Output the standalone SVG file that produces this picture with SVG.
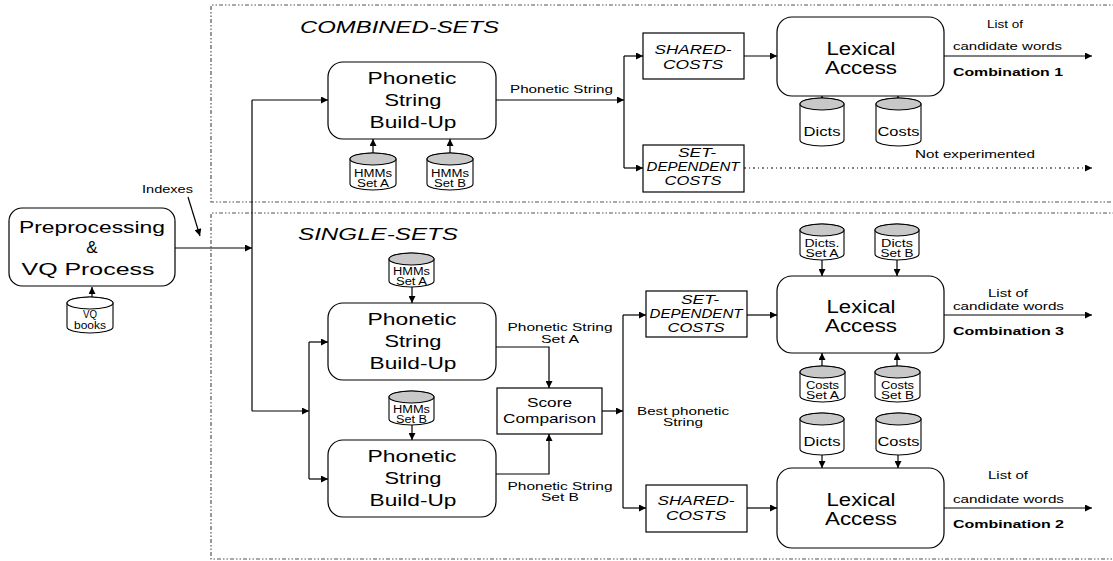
<svg xmlns="http://www.w3.org/2000/svg" width="1113" height="561" viewBox="0 0 1113 561">
<style>
.bg{fill:#fff}
.box{fill:#fff;stroke:#000;stroke-width:1.2}
.ln{fill:none;stroke:#000;stroke-width:1.2}
.dl{fill:none;stroke:#000;stroke-width:1.1;stroke-dasharray:2,3,1,3}
.reg{fill:none;stroke:#555;stroke-width:1.2;stroke-dasharray:4,2,1.5,2,1.5,2}
.cyl{fill:#fff;stroke:#000;stroke-width:1.1}
.top{fill:#c8c8c8;stroke:#000;stroke-width:1.1}
.topw{fill:#fff;stroke:#000;stroke-width:1.1}
text{font-family:"Liberation Sans",Arial,sans-serif;fill:#000}
.big{font-size:17px;text-anchor:middle}
.lex{font-size:18px;text-anchor:middle}
.ttl{font-size:17px;font-style:italic}
.it{font-size:12.5px;font-style:italic;text-anchor:middle}
.sm{font-size:11.5px}
.smc{font-size:11.5px;text-anchor:middle}
.cy{font-size:10px;text-anchor:middle}
.cyb{font-size:12px;text-anchor:middle}
.sc{font-size:13.5px;text-anchor:middle}
.bold{font-weight:bold}
</style>
<defs>
<marker id="ah" viewBox="0 0 10 10" refX="10" refY="5" markerWidth="9" markerHeight="7" markerUnits="userSpaceOnUse" orient="auto"><path d="M0,0 L10,5 L0,10 z" fill="#000"/></marker>
</defs>
<rect class="bg" x="0" y="0" width="1113" height="561"/>

<g id="regions">
<path class="reg" d="M1120,5 H211 V202 H1120"/>
<path class="reg" d="M1120,213 H211 V559 H1120"/>
<text class="ttl" x="300" y="33" textLength="199" lengthAdjust="spacingAndGlyphs">COMBINED-SETS</text>
<text class="ttl" x="298" y="240" textLength="160" lengthAdjust="spacingAndGlyphs">SINGLE-SETS</text>
</g>

<g id="connectors">
<path class="ln" d="M92,310 V287" marker-end="url(#ah)"/>
<path class="ln" d="M175,248 H252" marker-end="url(#ah)"/>
<path class="ln" d="M188,197 L200,236" marker-end="url(#ah)"/>
<path class="ln" d="M252,100 V411"/>
<path class="ln" d="M252,100 H328" marker-end="url(#ah)"/>
<path class="ln" d="M252,411 H309" marker-end="url(#ah)"/>
<path class="ln" d="M309,342 V479"/>
<path class="ln" d="M309,342 H328" marker-end="url(#ah)"/>
<path class="ln" d="M309,479 H328" marker-end="url(#ah)"/>
<path class="ln" d="M373,163 V139" marker-end="url(#ah)"/>
<path class="ln" d="M450,163 V139" marker-end="url(#ah)"/>
<path class="ln" d="M496,100 H624" marker-end="url(#ah)"/>
<path class="ln" d="M624,56 V168"/>
<path class="ln" d="M624,56 H643" marker-end="url(#ah)"/>
<path class="ln" d="M624,168 H643" marker-end="url(#ah)"/>
<path class="ln" d="M744,56 H777" marker-end="url(#ah)"/>
<path class="ln" d="M822,112 V96" marker-end="url(#ah)"/>
<path class="ln" d="M898,112 V96" marker-end="url(#ah)"/>
<path class="ln" d="M944,56 H1092" marker-end="url(#ah)"/>
<path class="dl" d="M744,168 H1092" marker-end="url(#ah)"/>
<path class="ln" d="M412,287 V303" marker-end="url(#ah)"/>
<path class="ln" d="M412,425 V440" marker-end="url(#ah)"/>
<path class="ln" d="M496,347 H549 V388" marker-end="url(#ah)"/>
<path class="ln" d="M496,474 H549 V434" marker-end="url(#ah)"/>
<path class="ln" d="M602,411 H623" marker-end="url(#ah)"/>
<path class="ln" d="M623,315 V508"/>
<path class="ln" d="M623,315 H646" marker-end="url(#ah)"/>
<path class="ln" d="M623,508 H646" marker-end="url(#ah)"/>
<path class="ln" d="M747,315 H777" marker-end="url(#ah)"/>
<path class="ln" d="M747,508 H777" marker-end="url(#ah)"/>
<path class="ln" d="M822,260 V276" marker-end="url(#ah)"/>
<path class="ln" d="M897,260 V276" marker-end="url(#ah)"/>
<path class="ln" d="M822,378 V353" marker-end="url(#ah)"/>
<path class="ln" d="M897,378 V353" marker-end="url(#ah)"/>
<path class="ln" d="M822,455 V468" marker-end="url(#ah)"/>
<path class="ln" d="M898,455 V468" marker-end="url(#ah)"/>
<path class="ln" d="M944,315 H1092" marker-end="url(#ah)"/>
<path class="ln" d="M944,508 H1092" marker-end="url(#ah)"/>
</g>

<g id="labels">
<text class="sm" x="142" y="193" font-size="10" style="font-size:10px" textLength="51" lengthAdjust="spacingAndGlyphs">Indexes</text>
<text class="sm" x="510" y="93" textLength="103" lengthAdjust="spacingAndGlyphs">Phonetic String</text>
<text class="sm" x="915" y="158" textLength="120" lengthAdjust="spacingAndGlyphs">Not experimented</text>
<text class="sm" x="987" y="28" textLength="36" lengthAdjust="spacingAndGlyphs">List of</text>
<text class="sm" x="953" y="50" textLength="109" lengthAdjust="spacingAndGlyphs">candidate words</text>
<text class="sm bold" x="953" y="76" textLength="110" lengthAdjust="spacingAndGlyphs">Combination 1</text>
<text class="smc" x="560" y="331" textLength="105" lengthAdjust="spacingAndGlyphs">Phonetic String</text>
<text class="smc" x="560" y="343" textLength="38" lengthAdjust="spacingAndGlyphs">Set A</text>
<text class="smc" x="560" y="490" textLength="105" lengthAdjust="spacingAndGlyphs">Phonetic String</text>
<text class="smc" x="560" y="501" textLength="38" lengthAdjust="spacingAndGlyphs">Set B</text>
<text class="sm" x="637" y="415" textLength="92" lengthAdjust="spacingAndGlyphs">Best phonetic</text>
<text class="smc" x="683" y="426" textLength="40" lengthAdjust="spacingAndGlyphs">String</text>
<text class="sm" x="988" y="297" textLength="40" lengthAdjust="spacingAndGlyphs">List of</text>
<text class="sm" x="953" y="310" textLength="111" lengthAdjust="spacingAndGlyphs">candidate words</text>
<text class="sm bold" x="953" y="335" textLength="111" lengthAdjust="spacingAndGlyphs">Combination 3</text>
<text class="sm" x="988" y="479" textLength="40" lengthAdjust="spacingAndGlyphs">List of</text>
<text class="sm" x="953" y="503" textLength="111" lengthAdjust="spacingAndGlyphs">candidate words</text>
<text class="sm bold" x="953" y="528" textLength="111" lengthAdjust="spacingAndGlyphs">Combination 2</text>
</g>

<g id="preprocessing">
<rect class="box" x="9" y="208" width="166" height="78" rx="13"/>
<text class="big" x="92" y="233" textLength="146" lengthAdjust="spacingAndGlyphs">Preprocessing</text>
<text class="big" x="92" y="253">&amp;</text>
<text class="big" x="88" y="275" textLength="133" lengthAdjust="spacingAndGlyphs">VQ Process</text>
</g>
<g id="vq-books">
<path class="cyl" d="M67,303 A23,6 0 0 1 113,303 V327 A23,6 0 0 1 67,327 Z"/>
<ellipse class="topw" cx="90" cy="303" rx="23" ry="6"/>
<text class="cy" x="90" y="318" textLength="14" lengthAdjust="spacingAndGlyphs">VQ</text>
<text class="cy" x="90" y="329" textLength="32" lengthAdjust="spacingAndGlyphs">books</text>
</g>

<g id="phonetic-combined">
<rect class="box" x="328" y="62" width="168" height="77" rx="15"/>
<text class="big" x="412" y="84" textLength="89" lengthAdjust="spacingAndGlyphs">Phonetic</text>
<text class="big" x="413" y="106" textLength="57" lengthAdjust="spacingAndGlyphs">String</text>
<text class="big" x="413" y="128" textLength="87" lengthAdjust="spacingAndGlyphs">Build-Up</text>
</g>
<g id="hmms-a-combined">
<path class="cyl" d="M350,159 A23,6 0 0 1 396,159 V184 A23,6 0 0 1 350,184 Z"/>
<ellipse class="top" cx="373" cy="159" rx="23" ry="6"/>
<text class="cy" x="373" y="177" textLength="38" lengthAdjust="spacingAndGlyphs">HMMs</text>
<text class="cy" x="373" y="187" textLength="32" lengthAdjust="spacingAndGlyphs">Set A</text>
</g>
<g id="hmms-b-combined">
<path class="cyl" d="M427,159 A23,6 0 0 1 473,159 V184 A23,6 0 0 1 427,184 Z"/>
<ellipse class="top" cx="450" cy="159" rx="23" ry="6"/>
<text class="cy" x="450" y="177" textLength="38" lengthAdjust="spacingAndGlyphs">HMMs</text>
<text class="cy" x="450" y="187" textLength="32" lengthAdjust="spacingAndGlyphs">Set B</text>
</g>

<g id="shared-costs-combined">
<rect class="box" x="643" y="33" width="101" height="46"/>
<text class="it" x="693" y="54" textLength="77" lengthAdjust="spacingAndGlyphs">SHARED-</text>
<text class="it" x="693" y="69" textLength="60" lengthAdjust="spacingAndGlyphs">COSTS</text>
</g>
<g id="set-dependent-combined">
<rect class="box" x="643" y="145" width="101" height="47"/>
<text class="it" x="697" y="157" textLength="38" lengthAdjust="spacingAndGlyphs">SET-</text>
<text class="it" x="693" y="171" textLength="93" lengthAdjust="spacingAndGlyphs">DEPENDENT</text>
<text class="it" x="693" y="185" textLength="57" lengthAdjust="spacingAndGlyphs">COSTS</text>
</g>

<g id="lexical-combined">
<rect class="box" x="777" y="17" width="167" height="79" rx="15"/>
<text class="lex" x="861" y="55" textLength="69" lengthAdjust="spacingAndGlyphs">Lexical</text>
<text class="lex" x="861" y="74" textLength="72" lengthAdjust="spacingAndGlyphs">Access</text>
</g>
<g id="dicts-combined">
<path class="cyl" d="M800,104 A22,6 0 0 1 844,104 V140 A22,6 0 0 1 800,140 Z"/>
<ellipse class="top" cx="822" cy="104" rx="22" ry="6"/>
<text class="cyb" x="822" y="136" textLength="37" lengthAdjust="spacingAndGlyphs">Dicts</text>
</g>
<g id="costs-combined">
<path class="cyl" d="M876,104 A22.5,6 0 0 1 921,104 V140 A22.5,6 0 0 1 876,140 Z"/>
<ellipse class="top" cx="898.5" cy="104" rx="22.5" ry="6"/>
<text class="cyb" x="898.5" y="136" textLength="42" lengthAdjust="spacingAndGlyphs">Costs</text>
</g>

<g id="hmms-a-single">
<path class="cyl" d="M389,259 A22.5,6 0 0 1 434,259 V281 A22.5,6 0 0 1 389,281 Z"/>
<ellipse class="top" cx="411.5" cy="259" rx="22.5" ry="6"/>
<text class="cy" x="411.5" y="275" textLength="37" lengthAdjust="spacingAndGlyphs">HMMs</text>
<text class="cy" x="411.5" y="285" textLength="31" lengthAdjust="spacingAndGlyphs">Set A</text>
</g>
<g id="phonetic-a-single">
<rect class="box" x="328" y="303" width="168" height="77" rx="15"/>
<text class="big" x="412" y="325" textLength="89" lengthAdjust="spacingAndGlyphs">Phonetic</text>
<text class="big" x="413" y="347" textLength="57" lengthAdjust="spacingAndGlyphs">String</text>
<text class="big" x="413" y="369" textLength="87" lengthAdjust="spacingAndGlyphs">Build-Up</text>
</g>
<g id="hmms-b-single">
<path class="cyl" d="M389,397 A22.5,6 0 0 1 434,397 V419 A22.5,6 0 0 1 389,419 Z"/>
<ellipse class="top" cx="411.5" cy="397" rx="22.5" ry="6"/>
<text class="cy" x="411.5" y="413" textLength="37" lengthAdjust="spacingAndGlyphs">HMMs</text>
<text class="cy" x="411.5" y="423" textLength="31" lengthAdjust="spacingAndGlyphs">Set B</text>
</g>
<g id="phonetic-b-single">
<rect class="box" x="328" y="440" width="168" height="77" rx="15"/>
<text class="big" x="412" y="462" textLength="89" lengthAdjust="spacingAndGlyphs">Phonetic</text>
<text class="big" x="413" y="484" textLength="57" lengthAdjust="spacingAndGlyphs">String</text>
<text class="big" x="413" y="506" textLength="87" lengthAdjust="spacingAndGlyphs">Build-Up</text>
</g>
<g id="score-comparison">
<rect class="box" x="497" y="388" width="105" height="46"/>
<text class="sc" x="549.5" y="407" textLength="45" lengthAdjust="spacingAndGlyphs">Score</text>
<text class="sc" x="549.5" y="423" textLength="93" lengthAdjust="spacingAndGlyphs">Comparison</text>
</g>

<g id="set-dependent-single">
<rect class="box" x="646" y="291" width="101" height="46"/>
<text class="it" x="700" y="304" textLength="38" lengthAdjust="spacingAndGlyphs">SET-</text>
<text class="it" x="696" y="318" textLength="93" lengthAdjust="spacingAndGlyphs">DEPENDENT</text>
<text class="it" x="696" y="332" textLength="57" lengthAdjust="spacingAndGlyphs">COSTS</text>
</g>
<g id="shared-costs-single">
<rect class="box" x="646" y="485" width="101" height="47"/>
<text class="it" x="696" y="505" textLength="77" lengthAdjust="spacingAndGlyphs">SHARED-</text>
<text class="it" x="696" y="520" textLength="60" lengthAdjust="spacingAndGlyphs">COSTS</text>
</g>

<g id="dicts-set-a">
<path class="cyl" d="M800,230 A22,6 0 0 1 844,230 V254 A22,6 0 0 1 800,254 Z"/>
<ellipse class="top" cx="822" cy="230" rx="22" ry="6"/>
<text class="cy" x="822" y="247" textLength="35" lengthAdjust="spacingAndGlyphs">Dicts.</text>
<text class="cy" x="822" y="257" textLength="33" lengthAdjust="spacingAndGlyphs">Set A</text>
</g>
<g id="dicts-set-b">
<path class="cyl" d="M875,230 A22,6 0 0 1 919,230 V254 A22,6 0 0 1 875,254 Z"/>
<ellipse class="top" cx="897" cy="230" rx="22" ry="6"/>
<text class="cy" x="897" y="247" textLength="32" lengthAdjust="spacingAndGlyphs">Dicts</text>
<text class="cy" x="897" y="257" textLength="33" lengthAdjust="spacingAndGlyphs">Set B</text>
</g>
<g id="lexical-3">
<rect class="box" x="777" y="276" width="167" height="77" rx="15"/>
<text class="lex" x="861" y="313" textLength="69" lengthAdjust="spacingAndGlyphs">Lexical</text>
<text class="lex" x="861" y="332" textLength="72" lengthAdjust="spacingAndGlyphs">Access</text>
</g>
<g id="costs-set-a">
<path class="cyl" d="M800,372 A22.5,6 0 0 1 845,372 V396 A22.5,6 0 0 1 800,396 Z"/>
<ellipse class="top" cx="822.5" cy="372" rx="22.5" ry="6"/>
<text class="cy" x="822.5" y="389" textLength="33" lengthAdjust="spacingAndGlyphs">Costs</text>
<text class="cy" x="822.5" y="399" textLength="33" lengthAdjust="spacingAndGlyphs">Set A</text>
</g>
<g id="costs-set-b">
<path class="cyl" d="M875,372 A22.5,6 0 0 1 920,372 V396 A22.5,6 0 0 1 875,396 Z"/>
<ellipse class="top" cx="897.5" cy="372" rx="22.5" ry="6"/>
<text class="cy" x="897.5" y="389" textLength="33" lengthAdjust="spacingAndGlyphs">Costs</text>
<text class="cy" x="897.5" y="399" textLength="33" lengthAdjust="spacingAndGlyphs">Set B</text>
</g>
<g id="dicts-single">
<path class="cyl" d="M800,419 A22,6 0 0 1 844,419 V449 A22,6 0 0 1 800,449 Z"/>
<ellipse class="top" cx="822" cy="419" rx="22" ry="6"/>
<text class="cyb" x="822" y="446" textLength="37" lengthAdjust="spacingAndGlyphs">Dicts</text>
</g>
<g id="costs-single">
<path class="cyl" d="M876,419 A22.5,6 0 0 1 921,419 V449 A22.5,6 0 0 1 876,449 Z"/>
<ellipse class="top" cx="898.5" cy="419" rx="22.5" ry="6"/>
<text class="cyb" x="898.5" y="446" textLength="42" lengthAdjust="spacingAndGlyphs">Costs</text>
</g>
<g id="lexical-2">
<rect class="box" x="777" y="468" width="167" height="80" rx="15"/>
<text class="lex" x="861" y="506" textLength="69" lengthAdjust="spacingAndGlyphs">Lexical</text>
<text class="lex" x="861" y="525" textLength="72" lengthAdjust="spacingAndGlyphs">Access</text>
</g>
</svg>
